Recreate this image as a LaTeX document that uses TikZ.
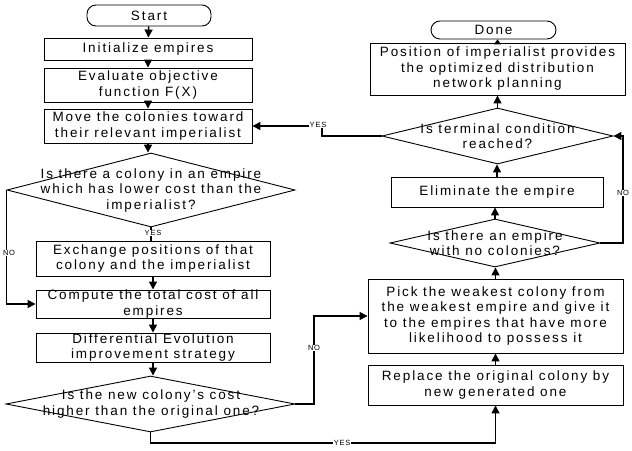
\documentclass[tikz,border=0pt]{standalone}
\usepackage{fontspec}
\setmainfont{Liberation Sans}[LetterSpace=14]
\newfontfamily\labfont{Liberation Sans}[LetterSpace=10]
\usetikzlibrary{shapes.geometric,arrows.meta}
\begin{document}
\begin{tikzpicture}[x=1pt,y=-1pt,
  every node/.style={font=\fontsize{13.5}{15.5}\selectfont},
  box/.style={draw, line width=0.9pt, align=center, inner sep=0pt},
  term/.style={box, rounded corners=9pt},
  dia/.style={draw, diamond, line width=0.9pt, inner sep=0pt},
  dtext/.style={align=center, inner sep=0pt},
  arr/.style={line width=1.4pt, -{Triangle[length=8pt,width=8pt]}},
  ln/.style={line width=1.4pt},
  lab/.style={fill=white, inner sep=0.6pt, font=\labfont\fontsize{7.5}{8}\selectfont}]
\useasboundingbox (0,0) rectangle (632,450);
% left column
\node[term, minimum width=124pt, minimum height=21pt] (start) at (149,15.5) {Start};
\node[box, minimum width=208pt, minimum height=22pt] (init) at (148,49) {Initialize empires};
\node[box, minimum width=208pt, minimum height=34pt] (eval) at (148,85) {Evaluate objective\\function F(X)};
\node[box, minimum width=208pt, minimum height=34pt] (move) at (148,126) {Move the colonies toward\\their relevant imperialist};
\node[dia, minimum width=288pt, minimum height=74pt] (d1) at (151,190) {};
\node[dtext] (d1t) at (151,190.5) {Is there a colony in an empire\\which has lower cost than the\\imperialist?};
\node[box, minimum width=234pt, minimum height=35pt] (exch) at (153,258.5) {Exchange positions of that\\colony and the imperialist};
\node[box, minimum width=234pt, minimum height=28pt] (comp) at (153,304) {Compute the total cost of all\\empires};
\node[box, minimum width=234pt, minimum height=29pt] (diff) at (153,347.5) {Differential Evolution\\improvement strategy};
\node[dia, minimum width=289pt, minimum height=56pt] (d2) at (150.5,404) {};
\node[dtext] (d2t) at (151,404) {Is the new colony’s cost\\higher than the original one?};
% right column
\node[term, minimum width=125pt, minimum height=18pt] (done) at (493.5,30) {Done};
\node[box, minimum width=255pt, minimum height=52pt] (pos) at (497.5,69) {Position of imperialist provides\\the optimized distribution\\network planning};
\node[dia, minimum width=231pt, minimum height=56pt] (d4) at (497.5,136) {};
\node[dtext] (d4t) at (497.5,136) {Is terminal condition\\reached?};
\node[box, minimum width=212pt, minimum height=30pt] (elim) at (497,192) {Eliminate the empire};
\node[dia, minimum width=210pt, minimum height=48pt] (d3) at (495,243) {};
\node[dtext] (d3t) at (495,243) {Is there an empire\\with no colonies?};
\node[box, minimum width=255pt, minimum height=74pt] (pick) at (495.5,316) {Pick the weakest colony from\\the weakest empire and give it\\to the empires that have more\\likelihood to possess it};
\node[box, minimum width=255pt, minimum height=40pt] (repl) at (495.5,385) {Replace the original colony by\\new generated one};
% helper coordinates
\coordinate (kno) at (314,0);
\coordinate (kyes) at (0,443);
\coordinate (kright) at (623,0);
\coordinate (ktop) at (322,0);
% left column connectors
\draw[arr] (start) -- (init);
\draw[arr] (init) -- (eval);
\draw[arr] (eval) -- (move);
\draw[arr] (move.south) -- (move.south |- d1.north);
\draw[ln] (d1.south) -- (d1.south |- exch.north);
\node[lab] (ly1) at (153,233) {YES};
\draw[arr] (d1.west) -- (d1.west |- comp.west) -- (comp.west);
\node[lab] (ln1) at (9,253) {NO};
\draw[arr] (exch) -- (comp);
\draw[arr] (comp) -- (diff);
\draw[arr] (diff.south) -- (diff.south |- d2.north);
\draw[arr] (d2.east) -| (kno |- pick.west) -- (pick.west);
\node[lab] (ln2) at (314,348) {NO};
\draw[arr] (d2.south) |- (repl.south |- kyes) -- (repl.south);
\node[lab] (ly2) at (342,443) {YES};
% right column connectors
\draw[arr] (repl) -- (pick);
\draw[arr] (pick.north) -- (pick.north |- d3.south);
\draw[arr] (d3.north) -- (d3.north |- elim.south);
\draw[arr] (elim.north) -- (elim.north |- d4.south);
\draw[arr] (d4.north) -- (d4.north |- pos.south);
\draw[line width=1.4pt, -{Triangle[length=5pt,width=7pt]}] (pos.north) -- (pos.north |- done.south);
\draw[arr] (d3.east) -| (kright |- d4.east) -- (d4.east);
\node[lab] (ln3) at (623,193) {NO};
\draw[arr] (d4.west) -| (ktop |- move.east) -- (move.east);
\node[lab] (ly3) at (318,125) {YES};
\end{tikzpicture}
\end{document}
